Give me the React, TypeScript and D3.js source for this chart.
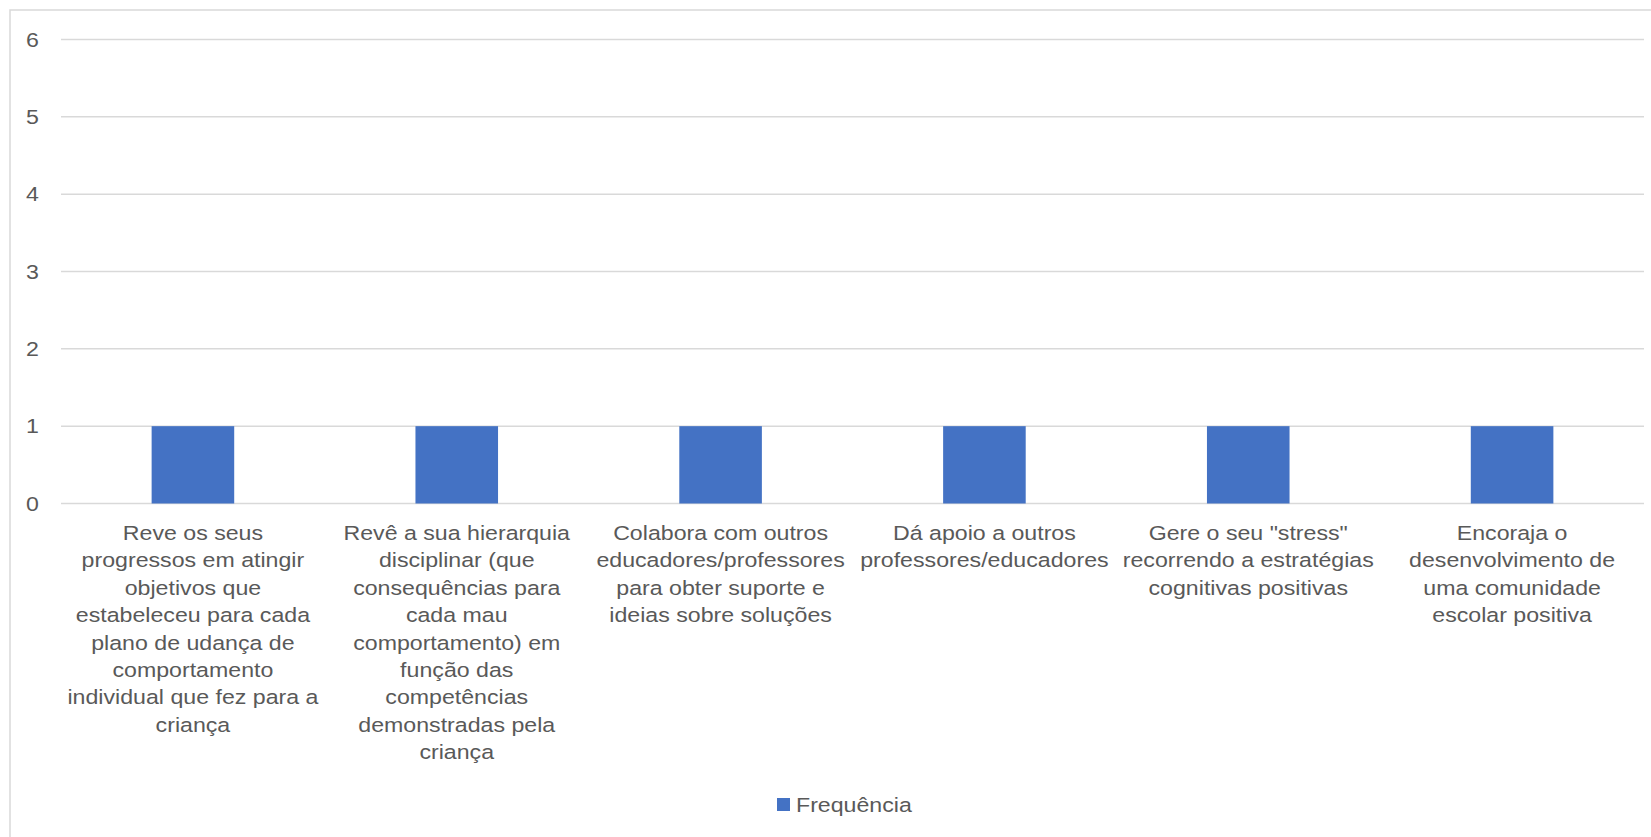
import React from "react";
import * as d3 from "d3";

const categoryLines: string[][] = [
  ["Reve os seus", "progressos em atingir", "objetivos que", "estabeleceu para cada", "plano de udança de", "comportamento", "individual que fez para a", "criança"],
  ["Revê a sua hierarquia", "disciplinar (que", "consequências para", "cada mau", "comportamento) em", "função das", "competências", "demonstradas pela", "criança"],
  ["Colabora com outros", "educadores/professores", "para obter suporte e", "ideias sobre soluções"],
  ["Dá apoio a outros", "professores/educadores"],
  ["Gere o seu \"stress\"", "recorrendo a estratégias", "cognitivas positivas"],
  ["Encoraja o", "desenvolvimento de", "uma comunidade", "escolar positiva"],
];
const categories: string[] = categoryLines.map((l) => l.join(" "));
const frequencia: number[] = [1, 1, 1, 1, 1, 1];
const yTicks: number[] = [0, 1, 2, 3, 4, 5, 6];
const seriesName = "Frequência";

const W = 1651;
const H = 837;
const FONT = "'Liberation Sans', Arial, sans-serif";
const FS = 20.5;
const SX = 1.13;
const TEXT = "#595959";
const GRID = "#d9d9d9";
const BAR = "#4472C4";

export default function App() {
  const x = d3.scaleBand<string>().domain(categories).range([61, 1644]).padding(0);
  const y = d3.scaleLinear().domain([0, 6]).range([503.5, 39.5]);
  const bw = x.bandwidth() * 0.313;
  const lineH = 27.4;
  const labelY0 = 540;

  return (
    <svg
      width={W}
      height={H}
      style={{ position: "absolute", left: 0, top: 0, background: "#fff" }}
      fontFamily={FONT}
    >
      <rect x={0} y={0} width={W} height={H} fill="#fff" />
      <rect x={10} y={10} width={W + 50} height={H + 50} fill="#fff" stroke={GRID} strokeWidth={1.5} />
      {yTicks.map((t) => (
        <g key={t}>
          <line x1={61} x2={1644} y1={y(t)} y2={y(t)} stroke={GRID} strokeWidth={1.5} />
          <text
            transform={`translate(39,${y(t) + 7.3}) scale(${SX},1)`}
            textAnchor="end"
            fontSize={FS}
            fill={TEXT}
          >
            {t}
          </text>
        </g>
      ))}
      {categories.map((c, i) => {
        const cx = (x(c) as number) + x.bandwidth() / 2;
        return (
          <g key={c}>
            <rect x={cx - bw / 2} y={y(frequencia[i])} width={bw} height={y(0) - y(frequencia[i])} fill={BAR} />
            {categoryLines[i].map((ln, j) => (
              <text
                key={j}
                transform={`translate(${cx},${labelY0 + j * lineH}) scale(${SX},1)`}
                textAnchor="middle"
                fontSize={FS}
                fill={TEXT}
              >
                {ln}
              </text>
            ))}
          </g>
        );
      })}
      <rect x={777} y={798} width={13} height={13} fill={BAR} />
      <text transform={`translate(796,811.5) scale(${SX},1)`} fontSize={FS} fill={TEXT}>
        {seriesName}
      </text>
    </svg>
  );
}
